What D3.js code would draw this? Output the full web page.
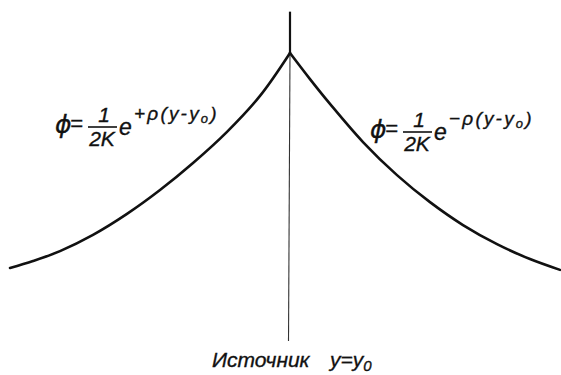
<!DOCTYPE html>
<html>
<head>
<meta charset="utf-8">
<script src="https://cdn.jsdelivr.net/npm/d3@7"></script>
<style>
  html, body { margin: 0; padding: 0; background: #fff; }
  svg { display: block; }
  text { font-family: "Liberation Sans", "DejaVu Sans", sans-serif; font-style: italic; fill: #111; stroke: #111; stroke-width: 0.35; }
</style>
</head>
<body>
<svg id="chart" width="561" height="375"></svg>
<script>
// Distance from the source (source at 0) and flux phi, normalised so that phi = 1 at the source.
const leftPos  = [-2.8, -2.57, -2.3, -1.97, -1.63, -1.3, -0.97, -0.63, -0.3, 0];
const leftPhi  = [0.324, 0.346, 0.377, 0.428, 0.494, 0.569, 0.654, 0.752, 0.865, 1.0];
const rightPos = [0, 0.2, 0.4, 0.73, 1.07, 1.4, 1.73, 2.07, 2.4, 2.7];
const rightPhi = [1.0, 0.918, 0.840, 0.720, 0.616, 0.531, 0.459, 0.399, 0.352, 0.318];
// Extent of the vertical line through the source, in phi units.
const sourceLine = [0.094, 1.13];

const svg = d3.select("#chart");
const x = d3.scaleLinear().domain([-2.8, 2.7]).range([10, 560]);
const y = d3.scaleLinear().domain([0, 1]).range([371, 53]);

const line = d3.line()
  .x(d => x(d[0]))
  .y(d => y(d[1]))
  .curve(d3.curveCatmullRom.alpha(0.5));

// Vertical line through the source: heavier above the peak, thin below it
svg.append("line")
  .attr("x1", x(0)).attr("x2", x(0))
  .attr("y1", y(sourceLine[1])).attr("y2", y(1))
  .attr("stroke", "#111").attr("stroke-width", 2.2);
svg.append("line")
  .attr("x1", x(0)).attr("x2", x(0) - 1.5)
  .attr("y1", y(1)).attr("y2", y(sourceLine[0]))
  .attr("stroke", "#333").attr("stroke-width", 1.1);

// The two exponential branches
[[leftPos, leftPhi], [rightPos, rightPhi]].forEach(([pos, phi]) => {
  svg.append("path")
    .datum(pos.map((p, i) => [p, phi[i]]))
    .attr("d", line)
    .attr("fill", "none")
    .attr("stroke", "#111")
    .attr("stroke-width", 2.6)
    .attr("stroke-linecap", "round")
    .attr("stroke-linejoin", "round");
});

// Formula  phi = 1/(2K) e^{±rho(y - y0)}
function formula(ox, oy, sign) {
  const g = svg.append("g").attr("transform", `translate(${ox},${oy})`);
  g.append("text").attr("x", 0).attr("y", 1).attr("font-size", 25)
    .style("font-family", "'DejaVu Sans', sans-serif").text("ϕ");
  g.append("text").attr("x", 15).attr("y", -1).attr("font-size", 22).text("=");
  g.append("text").attr("x", 49).attr("y", -10).attr("font-size", 21)
    .attr("text-anchor", "middle").text("1");
  g.append("line").attr("x1", 33).attr("x2", 62).attr("y1", -5).attr("y2", -5)
    .attr("stroke", "#111").attr("stroke-width", 1.6);
  g.append("text").attr("x", 47).attr("y", 14).attr("font-size", 21)
    .attr("text-anchor", "middle").text("2K");
  g.append("text").attr("x", 64).attr("y", 3).attr("font-size", 23).text("e");
  const ex = g.append("text").attr("x", 79).attr("y", -12).attr("font-size", 19)
    .attr("letter-spacing", 2.2);
  ex.append("tspan").text(sign + "ρ(y-y");
  ex.append("tspan").attr("font-size", 13).attr("dy", 3).text("o");
  ex.append("tspan").attr("dy", -3).text(")");
}
formula(55, 132, "+");
formula(370, 137, "−");

// Source label
const lab = svg.append("text").attr("x", 212).attr("y", 367).attr("font-size", 21);
lab.append("tspan").text("Источник");
lab.append("tspan").attr("x", 330).text("y=y");
lab.append("tspan").attr("font-size", 15).attr("dy", 4).text("0");
</script>
</body>
</html>
